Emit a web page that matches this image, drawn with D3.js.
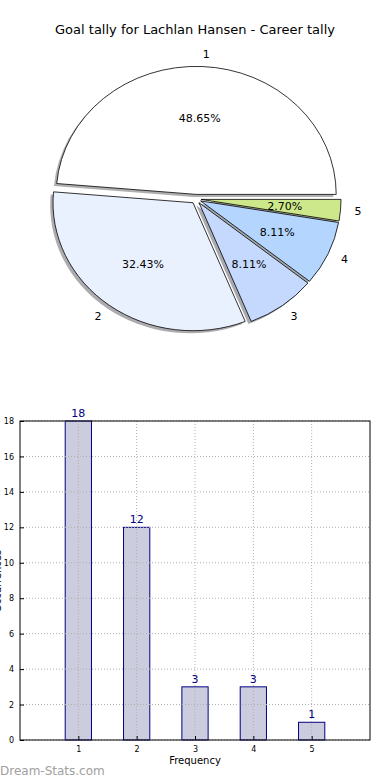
<!DOCTYPE html>
<head>
  <meta charset="utf-8">
  <title>Goal tally</title>
  <script src="https://d3js.org/d3.v7.min.js"></script>
  <style type="text/css">
    body { margin: 0; background: #fff; }
    svg { display: block; font-family: "DejaVu Sans", sans-serif; }
    .grid line { stroke: #b0b0b0; stroke-dasharray: 1,2; }
  </style>
</head>
<body>
  <div id="graph-container"></div>

<script>
// ---- data ----
const pieLabels = ["1", "2", "3", "4", "5"];
const pieValues = [18, 12, 3, 3, 1];
const pieColors = ["#ffffff", "#eaf1fe", "#c5d8fe", "#b3d5fe", "#cde88a"];

const barCats = [1, 2, 3, 4, 5];
const barValues = [18, 12, 3, 3, 1];
const yTicks = [0, 2, 4, 6, 8, 10, 12, 14, 16, 18];

const width = 390, height = 780;

const svg = d3.select("#graph-container").append("svg")
  .attr("width", width)
  .attr("height", height);

// ================= pie =================
svg.append("text")
  .attr("x", 195).attr("y", 34)
  .attr("text-anchor", "middle")
  .attr("font-size", 13)
  .text("Goal tally for Lachlan Hansen - Career tally");

const cx = 196, cy = 199, rx = 140, ry = 128, R = 100, explode = 0.036;

// matplotlib style: starts at 3 o'clock, counterclockwise
const pie = d3.pie().sort(null)
  .startAngle(Math.PI / 2)
  .endAngle(Math.PI / 2 - 2 * Math.PI);
const arcs = pie(pieValues);
const arc = d3.arc().innerRadius(0).outerRadius(R);

const total = d3.sum(pieValues);
function dir(d) {
  const a = (d.startAngle + d.endAngle) / 2;
  return [Math.sin(a), -Math.cos(a)];
}

const pg = svg.append("g")
  .attr("transform", "translate(" + cx + "," + cy + ") scale(" + rx / R + "," + ry / R + ")");

// shadows first
pg.selectAll(".shadow")
  .data(arcs)
  .enter().append("path")
    .attr("class", "shadow")
    .attr("d", arc)
    .attr("transform", d => {
      const v = dir(d);
      return "translate(" + (v[0] * explode * R - 2) + "," + (v[1] * explode * R + 2) + ")";
    })
    .attr("fill", (d, i) => {
      const c = d3.rgb(pieColors[i]);
      return d3.rgb(c.r * 0.3, c.g * 0.3, c.b * 0.3);
    })
    .attr("fill-opacity", 0.45);

pg.selectAll(".wedge")
  .data(arcs)
  .enter().append("path")
    .attr("class", "wedge")
    .attr("d", arc)
    .attr("transform", d => {
      const v = dir(d);
      return "translate(" + v[0] * explode * R + "," + v[1] * explode * R + ")";
    })
    .attr("fill", (d, i) => pieColors[i])
    .attr("stroke", "#000")
    .attr("stroke-width", 0.8)
    .attr("vector-effect", "non-scaling-stroke");

// labels (outside) and percentages
arcs.forEach((d, i) => {
  const v = dir(d);
  const ox = cx + v[0] * explode * rx, oy = cy + v[1] * explode * ry;
  svg.append("text")
    .attr("x", ox + v[0] * 1.1 * rx)
    .attr("y", oy + v[1] * 1.1 * ry)
    .attr("dy", "0.35em")
    .attr("text-anchor", v[0] >= 0 ? "start" : "end")
    .attr("font-size", 11)
    .text(pieLabels[i]);
  svg.append("text")
    .attr("x", ox + v[0] * 0.6 * rx)
    .attr("y", oy + v[1] * 0.6 * ry)
    .attr("dy", "0.35em")
    .attr("text-anchor", "middle")
    .attr("font-size", 11)
    .text((pieValues[i] / total * 100).toFixed(2) + "%");
});

// ================= bars =================
const x = d3.scaleLinear().domain([0, 6]).range([20, 370]);
const y = d3.scaleLinear().domain([0, 18]).range([740, 421]);
const bw = 0.45;

const bg = svg.append("g");

bg.selectAll(".bar")
  .data(barValues)
  .enter().append("rect")
    .attr("class", "bar")
    .attr("x", (d, i) => x(barCats[i] - bw / 2))
    .attr("width", x(bw) - x(0))
    .attr("y", d => y(d))
    .attr("height", d => y(0) - y(d))
    .attr("fill", "#ccccdf")
    .attr("stroke", "#000080")
    .attr("stroke-width", 1);

// grid on top of bars
const grid = bg.append("g").attr("class", "grid");
grid.selectAll(".gy")
  .data(yTicks)
  .enter().append("line")
    .attr("x1", x(0)).attr("x2", x(6))
    .attr("y1", d => y(d)).attr("y2", d => y(d));
grid.selectAll(".gx")
  .data(barCats)
  .enter().append("line")
    .attr("x1", d => x(d)).attr("x2", d => x(d))
    .attr("y1", y(0)).attr("y2", y(18));

bg.selectAll(".val")
  .data(barValues)
  .enter().append("text")
    .attr("x", (d, i) => x(barCats[i]))
    .attr("y", d => y(d) - 4)
    .attr("text-anchor", "middle")
    .attr("font-size", 11)
    .attr("fill", "#000080")
    .text(d => d);

// axes
const yAxis = d3.axisLeft(y).tickValues(yTicks).tickFormat(d3.format("d")).tickSize(-4).tickPadding(6);
const xAxis = d3.axisBottom(x).tickValues(barCats).tickFormat(d3.format("d")).tickSize(-4).tickPadding(6);

const ya = bg.append("g").attr("transform", "translate(" + x(0) + ",0)").call(yAxis);
const xa = bg.append("g").attr("transform", "translate(0," + y(0) + ")").call(xAxis);
[ya, xa].forEach(a => {
  a.select(".domain").remove();
  a.selectAll("text").attr("font-family", "DejaVu Sans").attr("font-size", 8).attr("fill", "#000");
  a.selectAll("line").attr("stroke", "#000");
});

bg.append("rect")
  .attr("x", x(0)).attr("y", y(18))
  .attr("width", x(6) - x(0)).attr("height", y(0) - y(18))
  .attr("fill", "none")
  .attr("stroke", "#000")
  .attr("stroke-width", 1);

svg.append("text")
  .attr("x", x(3)).attr("y", 764)
  .attr("text-anchor", "middle")
  .attr("font-size", 10)
  .text("Frequency");

// y label is clipped by the left edge, as in the original image
svg.append("text")
  .attr("transform", "translate(1,581) rotate(-90)")
  .attr("text-anchor", "middle")
  .attr("font-size", 10)
  .text("Occurrences");

svg.append("text")
  .attr("x", 0).attr("y", 775)
  .attr("font-size", 12)
  .attr("fill", "#a0a0a0")
  .text("Dream-Stats.com");
</script>
</body>
